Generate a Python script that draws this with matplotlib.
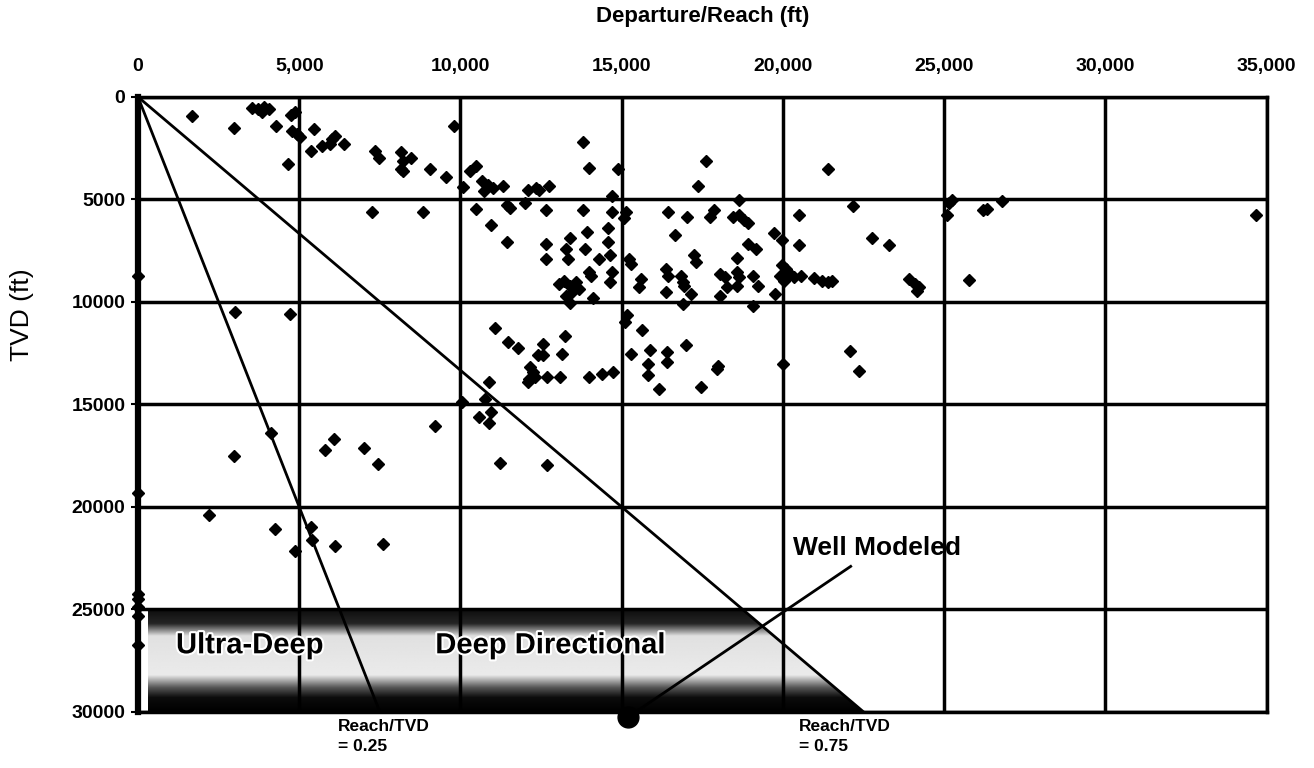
import numpy as np
import matplotlib
matplotlib.use('Agg')
from matplotlib import pyplot as plt
from matplotlib.patches import Polygon
import matplotlib.patheffects as pe

plt.rcParams['font.family'] = ['Liberation Sans', 'DejaVu Sans']

reach = [1660, 2970, 3540, 3720, 3840, 4050, 3900, 4290, 4640, 4750, 4870, 4790, 4930, 5020,
         5460, 5360, 5710, 6030, 6120, 5970, 6390, 7260, 7340, 7460, 8170, 8230, 8170, 8230,
         8480, 8850, 9040, 9540, 9800, 10070, 10310, 10490, 10490, 10670, 10720, 10840, 11020,
         11320, 10940, 11440, 11530, 11440, 12010, 12090, 12330, 12450, 12740, 12650, 12650,
         12650, 13810, 13990, 13810, 13910, 13870, 13400, 13280, 13340, 13040, 13220, 13400,
         13580, 13690, 13460, 13280, 13400, 13990, 14050, 14290, 14110, 14580, 14580, 14640,
         14700, 14640, 14700, 14880, 14700, 15120, 15060, 15240, 15300, 15590, 15530, 16420,
         16660, 17020, 16370, 16420, 16360, 16840, 16900, 17140, 16900, 17250, 17300, 17380, 0,
         17600, 17730, 17860, 18650, 18450, 18650, 18780, 18910, 19720, 19960, 20490, 21410,
         22170, 18910, 19170, 20510, 22750, 23290, 18580, 16940, 18060, 18190, 18580, 18650,
         18580, 18250, 18060, 19080, 19240, 19080, 19760, 19960, 20090, 20220, 20350, 20550,
         19900, 20030, 20950, 21210, 21410, 21510, 23900, 24090, 24230, 24160, 25770, 25090,
         25160, 25250, 26200, 26330, 26790, 34680,
         3000, 4700, 11070, 11480, 11780, 12550, 12410, 12550, 13240, 13140, 12170, 12250,
         12140, 12080, 12310, 12670, 13080, 14000, 14390, 14740, 15160, 15100, 15630, 15300,
         15870, 15810, 15810, 16170, 16410, 16410, 17000, 17470, 10870, 10770, 10950, 10890,
         10590, 10040, 9200, 11220, 12670, 4130, 2970, 5790, 6090, 7010, 7430, 2190, 4250,
         4860, 5350, 5410, 6110, 7600, 0, 0,
         18000, 17970, 20000, 22090, 22350, 0, 0, 0, 0]
tvd = [950, 1510, 560, 590, 740, 590, 500, 1400, 3290, 900, 740, 1640, 1810, 1970,
       1560, 2660, 2390, 2060, 1890, 2300, 2300, 5590, 2630, 2960, 2710, 3130, 3540, 3620,
       2960, 5590, 3540, 3910, 1430, 4410, 3620, 3370, 5460, 4110, 4610, 4280, 4440,
       4360, 6250, 5260, 5430, 7070, 5180, 4520, 4440, 4520, 4360, 5510, 7150,
       7890, 2220, 3450, 5510, 6580, 7400, 6900, 7400, 7890, 9130, 8960, 9210,
       9050, 9380, 9540, 9700, 10030, 8550, 8720, 7890, 9790, 6410, 7070, 7730,
       8550, 9050, 5590, 3540, 4850, 5590, 5920, 7890, 8140, 8880, 9290, 5590,
       6740, 5840, 8390, 8720, 9540, 8720, 9050, 9620, 10120, 7730, 8060, 4360, 8720,
       3120, 5840, 5510, 5020, 5840, 5760, 6000, 6170, 6660, 6990, 5760, 3540,
       5300, 7150, 7400, 7240, 6860, 7200, 7860, 9210, 8630, 8800, 8550, 8800,
       9210, 9290, 9700, 8720, 9210, 10200, 9620, 8220, 8390, 8630, 8800, 8720,
       8720, 8960, 8850, 8960, 9010, 8960, 8880, 9130, 9290, 9460, 8930, 5760,
       5180, 5020, 5510, 5460, 5100, 5760,
       10490, 10600, 11250, 11950, 12230, 12070, 12600, 12600, 11670, 12520, 13170, 13410,
       13740, 13900, 13660, 13660, 13660, 13660, 13500, 13410, 10650, 10980, 11350, 12520,
       12360, 13010, 13580, 14230, 12440, 12930, 12110, 14150, 13900, 14720, 15370, 15930,
       15610, 14880, 16070, 17850, 17970, 16390, 17530, 17240, 16700, 17110, 17890, 20410, 21060,
       22150, 20980, 21630, 21900, 21790, 19320, 24230,
       13110, 13280, 13030, 12380, 13360, 24500, 24900, 25300, 26750]

x_ticks = [0, 5000, 10000, 15000, 20000, 25000, 30000, 35000]
x_labels = ['0', '5,000', '10,000', '15,000', '20,000', '25,000', '30,000', '35,000']
y_ticks = [0, 5000, 10000, 15000, 20000, 25000, 30000]
y_labels = ['0', '5000', '10000', '15000', '20000', '25000', '30000']

ratios = [0.25, 0.75]
band_top, band_bot = 25000, 30000
well = (15200, 30250)
well_label = (22100, 22900)

fig = plt.figure(figsize=(13.14, 7.68), dpi=100)
ax = fig.add_axes([0.105, 0.073, 0.859, 0.8008])

# shaded band: dark at top and bottom, light in the middle
yy = np.linspace(band_top, band_bot, 200)
shade = np.interp(yy, [25000, 25700, 26300, 28200, 28800, 29300, 30000],
                  [0.95, 0.85, 0.12, 0.08, 0.65, 0.95, 1.0])
img = ax.imshow(np.tile(shade[:, None], (1, 10)), cmap='gray_r', vmin=0, vmax=1,
                extent=[300, band_bot * ratios[1], band_bot, band_top], aspect='auto', zorder=1)
clip = Polygon([(300, band_top), (band_top * ratios[1], band_top),
                (band_bot * ratios[1], band_bot), (300, band_bot)], closed=True,
               transform=ax.transData, facecolor='none')
img.set_clip_path(clip)
ax.set_xlim(0, 35000)
ax.set_ylim(30000, 0)

ax.set_xticks(x_ticks)
ax.set_xticklabels(x_labels)
ax.set_yticks(y_ticks)
ax.set_yticklabels(y_labels)
ax.xaxis.tick_top()
ax.tick_params(axis='x', length=0, pad=16, labelsize=14)
ax.tick_params(axis='y', length=5, width=1.5, pad=4, labelsize=14)
for lab in ax.get_xticklabels() + ax.get_yticklabels():
    lab.set_fontweight('bold')
ax.grid(True, color='black', linewidth=2.5, zorder=2)
ax.set_axisbelow(False)
for s in ax.spines.values():
    s.set_linewidth(2.5)
ax.spines['left'].set_linewidth(4.5)

fig.text(0.5346, 0.978, 'Departure/Reach (ft)', fontsize=16, fontweight='bold',
         ha='center', va='center')
fig.text(0.017, 0.59, 'TVD (ft)', fontsize=19, rotation=90, ha='center', va='center')

for r in ratios:
    ax.plot([0, band_bot * r], [0, band_bot], color='black', linewidth=2, zorder=3)

ax.plot(reach, tvd, 'D', color='black', markersize=6.5, zorder=4, clip_on=False)

ax.plot([well[0], well_label[0]], [well[1], well_label[1]], color='black', linewidth=2, zorder=3)
ax.plot(well[0], well[1], 'o', color='black', markersize=15, zorder=5, clip_on=False)

halo = [pe.withStroke(linewidth=3, foreground='white')]
ax.text(1180, 26750, 'Ultra-Deep', fontsize=21, fontweight='bold', va='center', zorder=6,
        path_effects=halo)
ax.text(9220, 26750, 'Deep Directional', fontsize=21, fontweight='bold', va='center', zorder=6,
        path_effects=halo)
ax.text(20300, 22000, 'Well Modeled', fontsize=19, fontweight='bold', va='center', zorder=6)
ax.text(6200, 30350, 'Reach/TVD\n= 0.25', fontsize=12.5, fontweight='bold', va='top',
        linespacing=1.4, clip_on=False)
ax.text(20500, 30350, 'Reach/TVD\n= 0.75', fontsize=12.5, fontweight='bold', va='top',
        linespacing=1.4, clip_on=False)

fig.savefig('out.png', dpi=100)
